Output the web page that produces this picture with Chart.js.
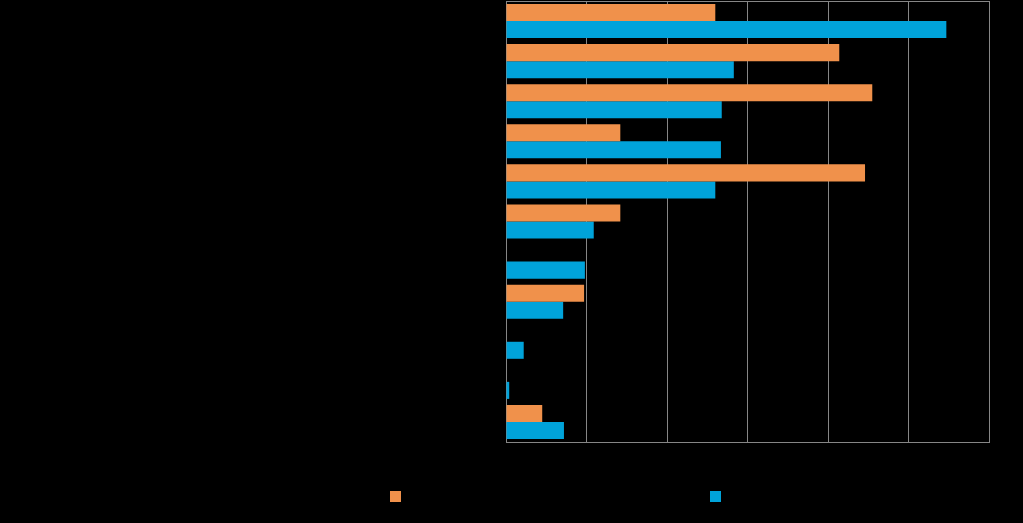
<!DOCTYPE html>
<html lang="en">
<head>
    <meta charset="UTF-8">
    <title>Bar chart</title>
    <script src="https://cdn.jsdelivr.net/npm/chart.js"></script>
    <style>
        body { margin: 0; background: #000; }
        #wrap { position: relative; width: 1023px; height: 523px; }
        .key { position: absolute; top: 491px; width: 11px; height: 11px; }
        .keytext { position: absolute; top: 488px; font: 12px "Liberation Sans", Arial, sans-serif; color: #000; }
    </style>
</head>
<body>
<div id="wrap">
    <canvas id="chart"></canvas>
    <div class="key" id="key1" style="left:390px"></div>
    <span class="keytext" id="text1" style="left:407px"></span>
    <div class="key" id="key2" style="left:710px"></div>
    <span class="keytext" id="text2" style="left:727px"></span>
</div>
<script>
    // labels are black on black in the original, so only placeholders here
    const categories = ['1', '2', '3', '4', '5', '6', '7', '8', '9', '10', '11'];
    const seriesNames = ['Series 1', 'Series 2'];
    const orangeValues = [26.0, 41.4, 45.5, 14.2, 44.6, 14.2, 0, 9.7, 0, 0, 4.5];
    const blueValues = [54.7, 28.3, 26.8, 26.7, 26.0, 10.9, 9.8, 7.1, 2.2, 0.4, 7.2];
    const xTicks = [0, 10, 20, 30, 40, 50, 60];

    const orange = '#F0914B';
    const blue = '#00A3DA';
    const gridGray = '#868686';

    // simple legend boxes under the chart
    document.getElementById('key1').style.background = orange;
    document.getElementById('key2').style.background = blue;
    document.getElementById('text1').textContent = seriesNames[0];
    document.getElementById('text2').textContent = seriesNames[1];

    new Chart(document.getElementById('chart'), {
        type: 'bar',
        data: {
            labels: categories,
            datasets: [
                { label: seriesNames[0], data: orangeValues, backgroundColor: orange },
                { label: seriesNames[1], data: blueValues, backgroundColor: blue }
            ]
        },
        options: {
            indexAxis: 'y',
            responsive: true,
            maintainAspectRatio: false,
            animation: false,
            categoryPercentage: 0.85,
            barPercentage: 1,
            layout: { padding: { top: 1, right: 34, left: 0, bottom: 0 } },
            plugins: {
                legend: { display: false },
                tooltip: { enabled: false }
            },
            scales: {
                x: {
                    min: xTicks[0],
                    max: xTicks[xTicks.length - 1],
                    ticks: { stepSize: 10, color: '#000', font: { size: 12 } },
                    grid: { color: gridGray, drawTicks: false },
                    border: { color: gridGray },
                    afterFit: (scale) => { scale.height = 81; }
                },
                y: {
                    ticks: { display: false },
                    grid: {
                        drawTicks: false,
                        color: (ctx) => ctx.index === 0 ? gridGray : 'rgba(0,0,0,0)'
                    },
                    border: { color: gridGray },
                    afterFit: (scale) => { scale.width = 506; }
                }
            }
        }
    });
</script>
</body>
</html>
